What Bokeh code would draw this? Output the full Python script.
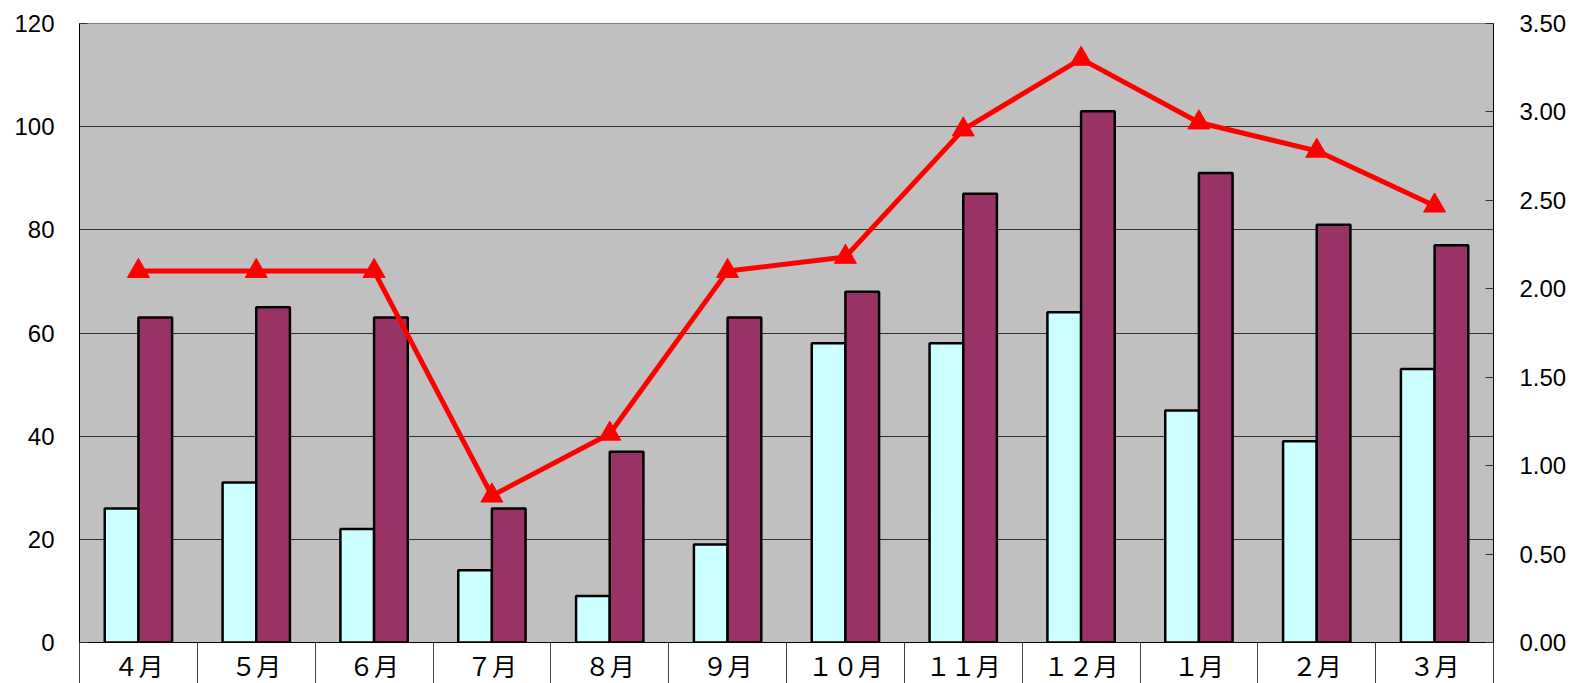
import numpy as np
from bokeh.plotting import figure
from bokeh.models import Range1d, LinearAxis, FixedTicker, NumeralTickFormatter, ColumnDataSource
from bokeh.embed import file_html
from bokeh.resources import INLINE

months = ["４月", "５月", "６月", "７月", "８月", "９月", "１０月", "１１月", "１２月", "１月", "２月", "３月"]
series_a = [26, 31, 22, 14, 9, 19, 58, 58, 64, 45, 39, 53]
series_b = [63, 65, 63, 26, 37, 63, 68, 87, 103, 91, 81, 77]
ratio = [2.10, 2.10, 2.10, 0.83, 1.18, 2.10, 2.18, 2.90, 3.30, 2.94, 2.78, 2.47]
left_ticks = [0, 20, 40, 60, 80, 100, 120]
right_ticks = [0.0, 0.5, 1.0, 1.5, 2.0, 2.5, 3.0, 3.5]

n = len(months)
centers = np.arange(n) + 0.5
bw = 1 / 3.5

p = figure(frame_width=1414, frame_height=619, output_backend="svg", toolbar_location=None,
           x_range=Range1d(0, n), y_range=Range1d(0, 120),
           min_border_left=79, min_border_right=70, min_border_top=23, min_border_bottom=30)
p.background_fill_color = "#C0C0C0"
p.border_fill_color = "white"
p.outline_line_color = "#808080"
p.xgrid.visible = False
p.ygrid.grid_line_color = "#303030"
p.ygrid.grid_line_width = 1.2
p.ygrid.ticker = FixedTicker(ticks=left_ticks)

p.extra_y_ranges = {"right": Range1d(0, 3.5)}

src = ColumnDataSource(dict(xa=centers - bw / 2, xb=centers + bw / 2, a=series_a, b=series_b,
                            xc=centers, r=ratio))
p.vbar(x="xa", top="a", width=bw, source=src, fill_color="#CCFFFF", line_color="black", line_width=2.5)
p.vbar(x="xb", top="b", width=bw, source=src, fill_color="#993366", line_color="black", line_width=2.5)
p.line(x="xc", y="r", source=src, y_range_name="right", line_color="#FF0000", line_width=5)
p.scatter(x="xc", y="r", source=src, y_range_name="right", marker="triangle", size=22,
          fill_color="#FF0000", line_color="#FF0000")

# left axis
ya = p.yaxis[0]
ya.ticker = FixedTicker(ticks=left_ticks)
ya.major_tick_in = 8
ya.major_tick_out = 0
ya.minor_tick_line_color = None
ya.axis_line_color = "black"
ya.major_tick_line_color = "#303030"
ya.major_label_text_font = "Liberation Sans"
ya.major_label_text_font_size = "24px"
ya.major_label_text_color = "black"
ya.major_label_standoff = 25

# right axis
ra = LinearAxis(y_range_name="right", ticker=FixedTicker(ticks=right_ticks),
                formatter=NumeralTickFormatter(format="0.00"))
ra.major_tick_in = 8
ra.major_tick_out = 0
ra.minor_tick_line_color = None
ra.axis_line_color = "black"
ra.major_tick_line_color = "#303030"
ra.major_label_text_font = "Liberation Sans"
ra.major_label_text_font_size = "24px"
ra.major_label_text_color = "black"
ra.major_label_standoff = 26
p.add_layout(ra, "right")

# bottom category axis
xa = p.xaxis[0]
xa.ticker = FixedTicker(ticks=list(centers), minor_ticks=list(range(n + 1)))
xa.major_label_overrides = {float(c): m for c, m in zip(centers, months)}
xa.major_tick_in = 0
xa.major_tick_out = 0
xa.minor_tick_in = 0
xa.minor_tick_out = 45
xa.minor_tick_line_color = "#404040"
xa.minor_tick_line_width = 1
xa.axis_line_color = "black"
xa.major_label_text_font = "Noto Sans CJK JP"
xa.major_label_text_font_size = "25px"
xa.major_label_text_color = "black"
xa.major_label_standoff = -41

open("out.html", "w").write(file_html(p, INLINE))
